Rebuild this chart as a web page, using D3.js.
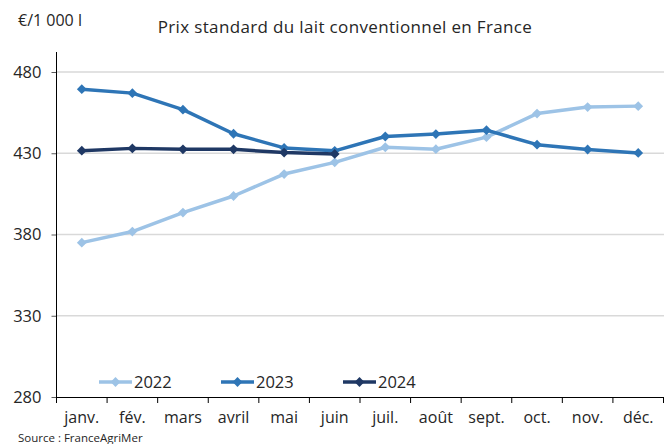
<!DOCTYPE html>
<html><head><meta charset="utf-8">
<script src="https://cdn.jsdelivr.net/npm/d3@7"></script>
<style>body{margin:0;background:#fff}svg{display:block}text{font-family:"Open Sans",sans-serif}</style>
</head><body><svg id="c" width="669" height="444"></svg>
<script>
const months = ["janv.","fév.","mars","avril","mai","juin","juil.","août","sept.","oct.","nov.","déc."];
const s2022 = [375,381.8,393.5,403.7,417.2,424.4,433.7,432.5,439.9,454.4,458.4,459];
const s2023 = [469.4,467,456.8,442,433.3,431.5,440.3,441.8,444.2,435.3,432.3,430.2];
const s2024 = [431.6,433,432.4,432.4,430.4,429.6];
const yTicks = [280,330,380,430,480];
const seriesNames = ["2022","2023","2024"];
const colors = ["#9dc3e6","#2e75b6","#1f3864"];

const svg = d3.select("#c");
const x = d3.scaleBand().domain(months).range([56.5,663.5]);
const y = d3.scaleLinear().domain([280,480]).range([397,72]);

// gridlines
svg.append("g").selectAll("line").data(yTicks.slice(1)).join("line")
  .attr("x1",57).attr("x2",664).attr("y1",d=>y(d)).attr("y2",d=>y(d))
  .attr("stroke","#d9d9d9").attr("stroke-width",1.5);

// y axis
const ya = svg.append("g").attr("transform","translate(56.5,0)")
  .call(d3.axisLeft(y).tickValues(yTicks).tickSize(5).tickPadding(10).tickSizeOuter(0));
ya.select(".domain").remove();
ya.append("line").attr("x1",0).attr("x2",0).attr("y1",52).attr("y2",397).attr("stroke","#000");
ya.selectAll(".tick line").attr("stroke","#595959");
ya.selectAll("text").attr("font-size",16.5).attr("fill","#262626").attr("font-family","'Open Sans',sans-serif");

// x axis
const xa = svg.append("g").attr("transform","translate(0,397)")
  .call(d3.axisBottom(x).tickSize(0).tickPadding(15));
xa.select(".domain").attr("stroke","#000");
xa.selectAll("text").attr("font-size",16).attr("fill","#262626").attr("font-family","'Open Sans',sans-serif");
const bounds = months.map(m=>x(m)).concat([x.range()[1]]);
xa.append("g").selectAll("line").data(bounds).join("line")
  .attr("x1",d=>d).attr("x2",d=>d).attr("y1",0).attr("y2",6).attr("stroke","#000");

// lines
const data = [s2022,s2023,s2024];
const cx = i => x(months[i]) + x.bandwidth()/2;
const line = d3.line().x((d,i)=>cx(i)).y(d=>y(d));
const diamond = d3.symbol().type(d3.symbolSquare).size(48);
data.forEach((ser,k)=>{
  const g = svg.append("g");
  g.append("path").datum(ser).attr("d",line).attr("fill","none")
    .attr("stroke",colors[k]).attr("stroke-width",3.5).attr("stroke-linejoin","round");
  g.selectAll("path.m").data(ser).join("path").attr("class","m")
    .attr("d",diamond).attr("transform",(d,i)=>`translate(${cx(i)},${y(d)}) rotate(45)`)
    .attr("fill",colors[k]);
});

// legend
const legX = [99,221,343];
seriesNames.forEach((n,k)=>{
  const g = svg.append("g").attr("transform",`translate(${legX[k]},382)`);
  g.append("line").attr("x1",0).attr("x2",33).attr("stroke",colors[k]).attr("stroke-width",3.5);
  g.append("path").attr("d",diamond).attr("transform","translate(16.5,0) rotate(45)").attr("fill",colors[k]);
  g.append("text").attr("x",35).attr("y",6).attr("font-size",16.5).attr("fill","#262626").text(n);
});

// titles
svg.append("text").attr("x",18).attr("y",26).attr("font-size",16).attr("fill","#262626").text("€/1 000 l");
svg.append("text").attr("x",345).attr("y",33).attr("text-anchor","middle").attr("font-size",17).attr("letter-spacing",0.35).attr("fill","#262626").text("Prix standard du lait conventionnel en France");
svg.append("text").attr("x",18).attr("y",441.5).attr("font-size",11.5).attr("fill","#262626").attr("font-family","Lato,sans-serif").text("Source : FranceAgriMer");
</script></body></html>
